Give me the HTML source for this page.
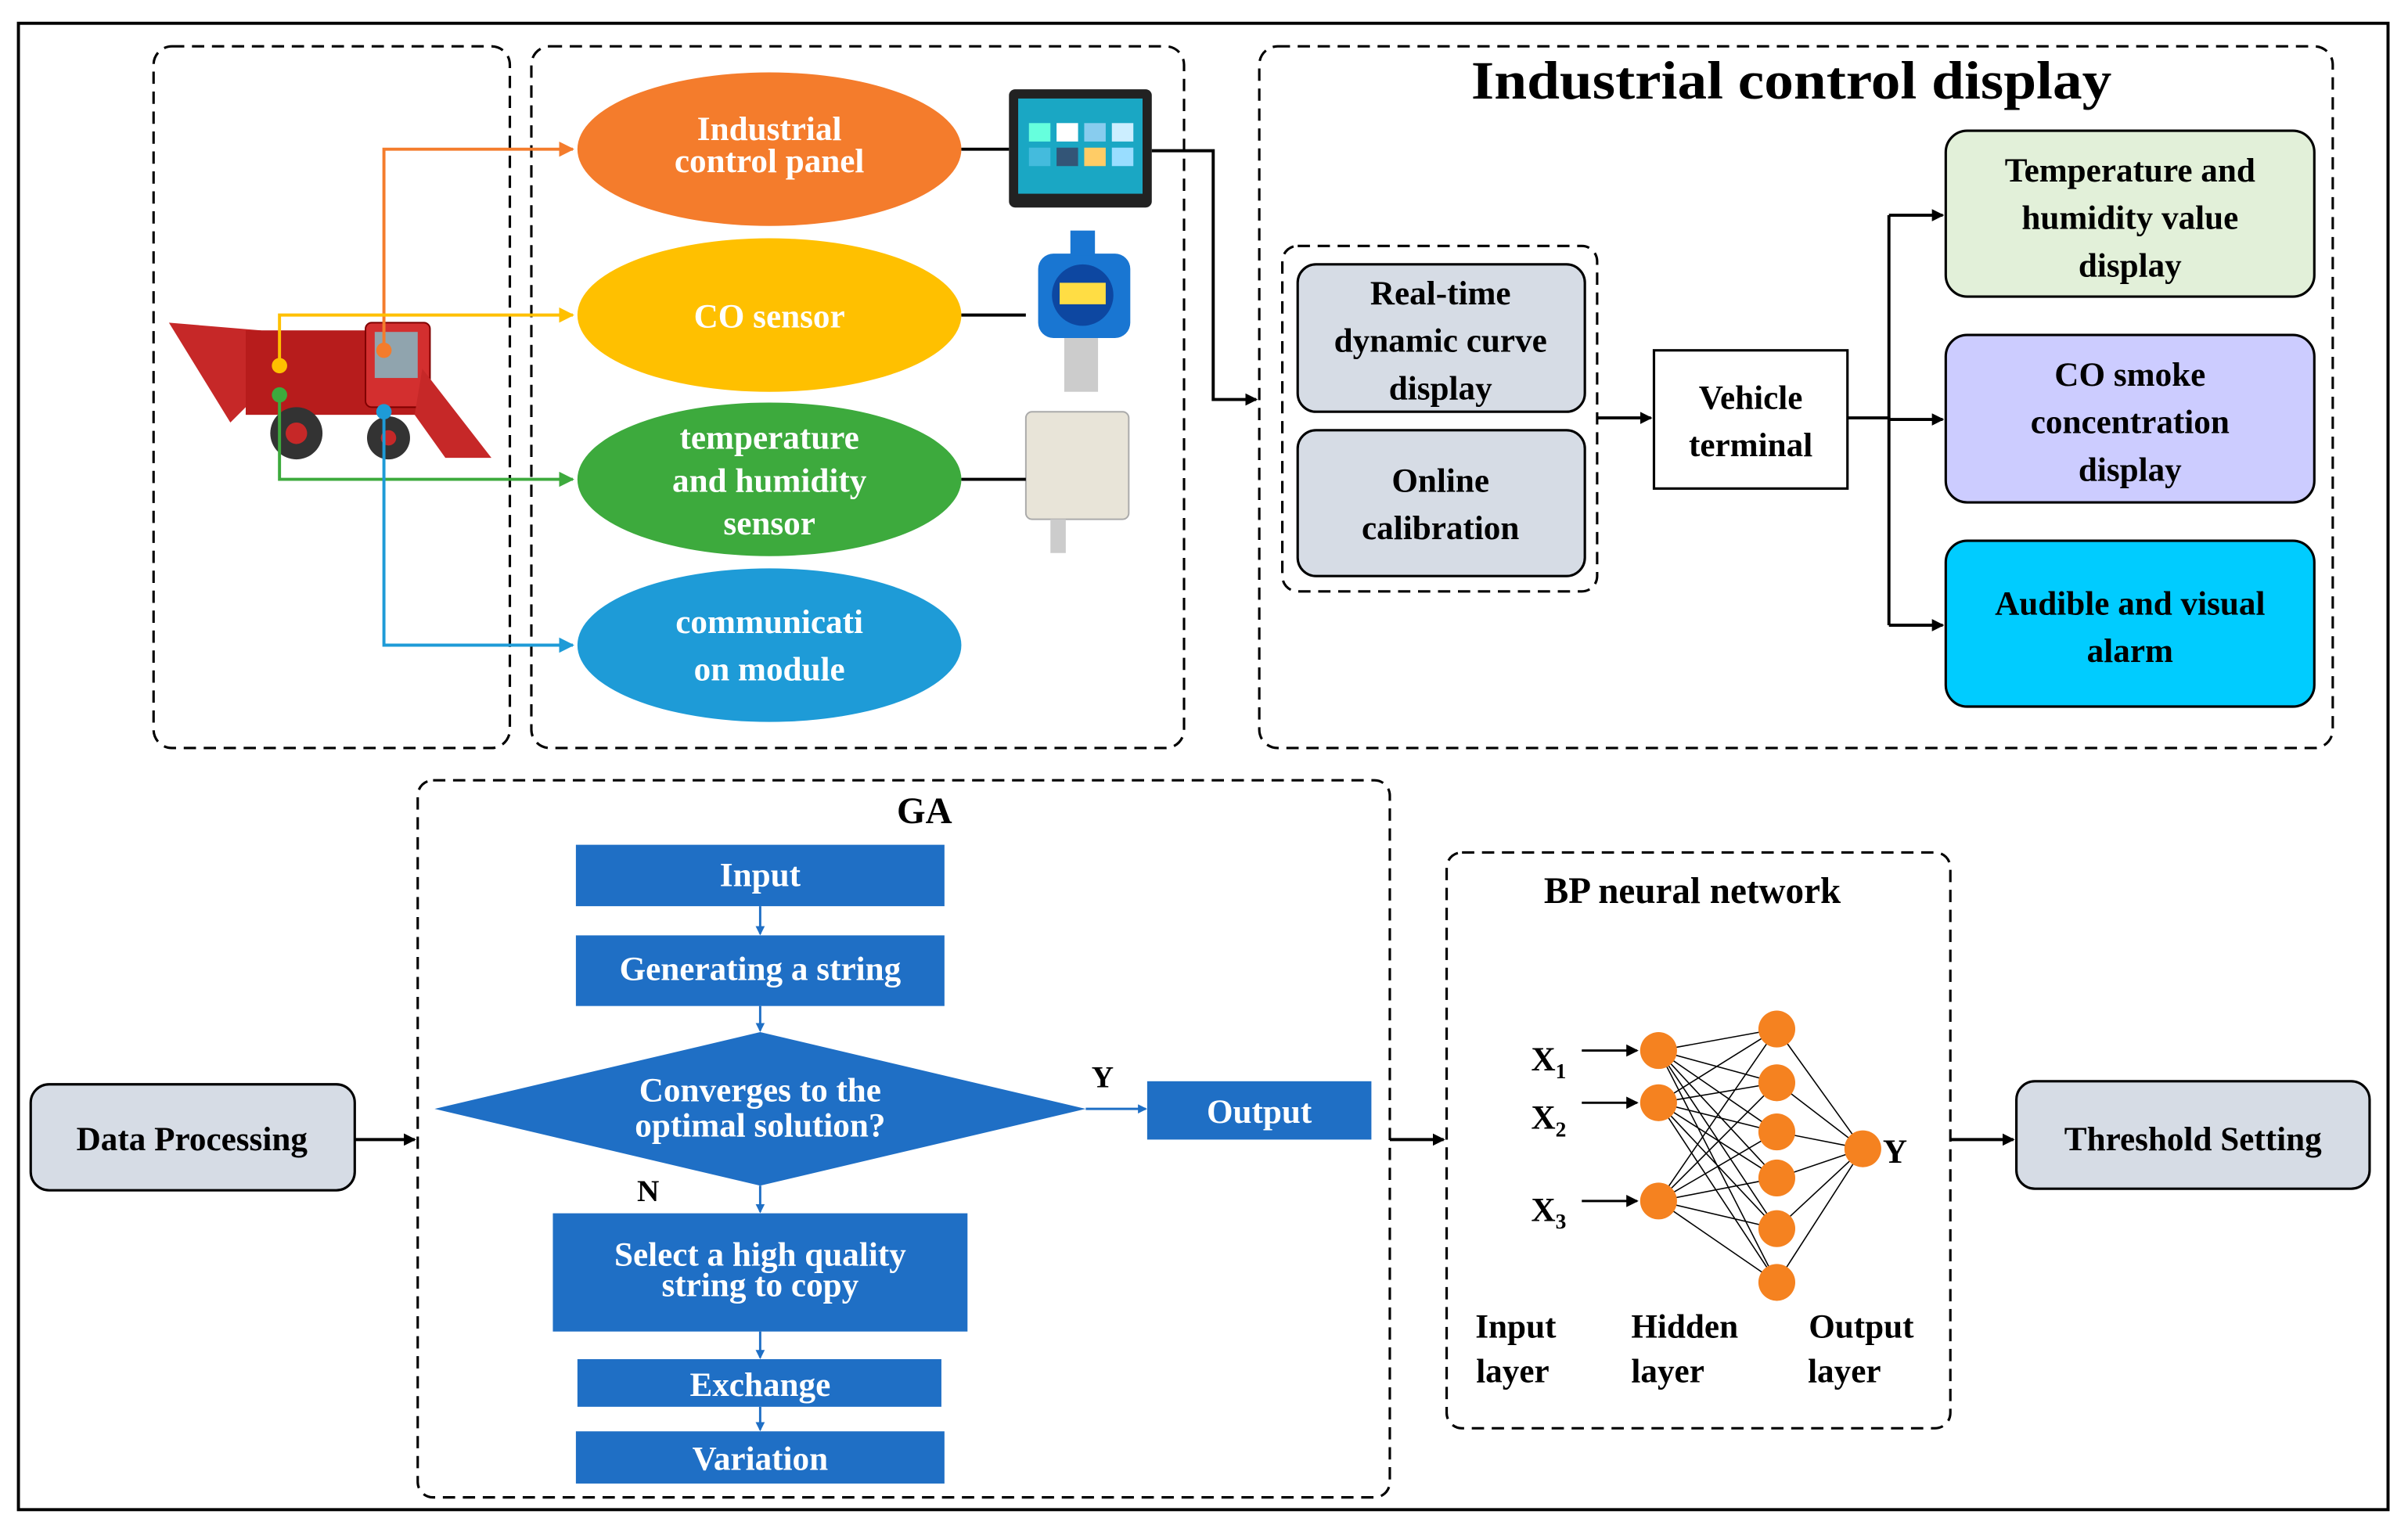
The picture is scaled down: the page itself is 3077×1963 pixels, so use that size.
<!DOCTYPE html>
<html><head><meta charset="utf-8"><style>
html,body{margin:0;padding:0;background:#fff}
svg{display:block}
text{font-family:"Liberation Serif","DejaVu Serif",serif;font-weight:bold}
</style></head><body>
<svg width="3077" height="1963" viewBox="0 0 1568 1000" xmlns="http://www.w3.org/2000/svg" font-family="'Liberation Serif', 'DejaVu Serif', serif" font-weight="bold">
<defs>
<marker id="a" markerWidth="8" markerHeight="8" refX="7" refY="4" orient="auto" markerUnits="userSpaceOnUse"><path d="M0,0 L8,4 L0,8 z" fill="#000"/></marker>
<marker id="ab" markerWidth="6" markerHeight="6" refX="5" refY="3" orient="auto" markerUnits="userSpaceOnUse"><path d="M0,0 L6,3 L0,6 z" fill="#1F6FC5"/></marker>
<marker id="ao" markerWidth="10" markerHeight="10" refX="9" refY="5" orient="auto" markerUnits="userSpaceOnUse"><path d="M0,0 L10,5 L0,10 z" fill="#F47C2C"/></marker>
<marker id="ay" markerWidth="10" markerHeight="10" refX="9" refY="5" orient="auto" markerUnits="userSpaceOnUse"><path d="M0,0 L10,5 L0,10 z" fill="#FFC000"/></marker>
<marker id="ag" markerWidth="10" markerHeight="10" refX="9" refY="5" orient="auto" markerUnits="userSpaceOnUse"><path d="M0,0 L10,5 L0,10 z" fill="#3DAA3D"/></marker>
<marker id="abl" markerWidth="10" markerHeight="10" refX="9" refY="5" orient="auto" markerUnits="userSpaceOnUse"><path d="M0,0 L10,5 L0,10 z" fill="#1E9BD7"/></marker>
</defs>
<rect x="12" y="15" width="1543" height="968" fill="none" stroke="#000" stroke-width="2"/>
<g fill="none" stroke="#000" stroke-width="1.6" stroke-dasharray="8,5">
<rect x="100" y="30" width="232" height="457" rx="12"/>
<rect x="346" y="30" width="425" height="457" rx="12"/>
<rect x="820" y="30" width="699" height="457" rx="12"/>
<rect x="835" y="160" width="205" height="225" rx="10"/>
<rect x="272" y="508" width="633" height="467" rx="10"/>
<rect x="942" y="555" width="328" height="375" rx="10"/>
</g>
<text x="958" y="64" font-size="35" textLength="417" lengthAdjust="spacingAndGlyphs">Industrial control display</text>
<ellipse cx="501" cy="97" rx="125" ry="50" fill="#F47C2C"/>
<ellipse cx="501" cy="205" rx="125" ry="50" fill="#FFC000"/>
<ellipse cx="501" cy="312" rx="125" ry="50" fill="#3DAA3D"/>
<ellipse cx="501" cy="420" rx="125" ry="50" fill="#1E9BD7"/>
<g fill="#fff" font-size="22" text-anchor="middle">
<text x="501" y="91">Industrial</text><text x="501" y="112">control panel</text>
<text x="501" y="213">CO sensor</text>
<text x="501" y="292">temperature</text><text x="501" y="320">and humidity</text><text x="501" y="348">sensor</text>
<text x="501" y="412">communicati</text><text x="501" y="443">on module</text>
</g>
<rect x="657" y="58" width="93" height="77" rx="4" fill="#222"/>
<rect x="663" y="64" width="81" height="62" fill="#1aa7c4"/>
<rect x="670" y="80" width="14" height="12" fill="#6fd"/><rect x="688" y="80" width="14" height="12" fill="#fff"/><rect x="706" y="80" width="14" height="12" fill="#8ce"/><rect x="724" y="80" width="14" height="12" fill="#cef"/>
<rect x="670" y="96" width="14" height="12" fill="#4bd"/><rect x="688" y="96" width="14" height="12" fill="#357"/><rect x="706" y="96" width="14" height="12" fill="#fc6"/><rect x="724" y="96" width="14" height="12" fill="#9df"/>
<rect x="676" y="165" width="60" height="55" rx="10" fill="#1976d2"/>
<circle cx="705" cy="192" r="20" fill="#0d47a1"/><rect x="690" y="184" width="30" height="14" fill="#fd4"/>
<rect x="697" y="150" width="16" height="16" fill="#1976d2"/>
<rect x="693" y="220" width="22" height="35" fill="#ccc"/>
<rect x="668" y="268" width="67" height="70" rx="4" fill="#e8e4d8" stroke="#aaa"/>
<rect x="684" y="338" width="10" height="22" fill="#ccc"/>
<g stroke="#000" stroke-width="2" fill="none">
<line x1="626" y1="97" x2="657" y2="97"/>
<line x1="626" y1="205" x2="668" y2="205"/>
<line x1="626" y1="312" x2="668" y2="312"/>
<polyline points="750,98 790,98 790,260 818,260" marker-end="url(#a)"/>
</g>
<polygon points="110,210 170,215 175,250 150,275" fill="#c62828"/>
<rect x="160" y="215" width="120" height="55" fill="#b71c1c"/>
<rect x="238" y="210" width="42" height="55" rx="4" fill="#d32f2f" stroke="#7f0000"/>
<rect x="244" y="216" width="28" height="30" fill="#90a4ae"/>
<polygon points="275,240 320,298 290,298 270,270" fill="#c62828"/>
<circle cx="193" cy="282" r="17" fill="#333"/><circle cx="193" cy="282" r="7" fill="#c62828"/>
<circle cx="253" cy="285" r="14" fill="#333"/><circle cx="253" cy="285" r="5" fill="#c62828"/>
<g fill="none" stroke-width="2">
<polyline points="250,228 250,97 373,97" stroke="#F47C2C" marker-end="url(#ao)"/>
<polyline points="182,238 182,205 373,205" stroke="#FFC000" marker-end="url(#ay)"/>
<polyline points="182,257 182,312 373,312" stroke="#3DAA3D" marker-end="url(#ag)"/>
<polyline points="250,268 250,420 373,420" stroke="#1E9BD7" marker-end="url(#abl)"/>
</g>
<circle cx="250" cy="228" r="5" fill="#F47C2C"/><circle cx="182" cy="238" r="5" fill="#FFC000"/>
<circle cx="182" cy="257" r="5" fill="#3DAA3D"/><circle cx="250" cy="268" r="5" fill="#1E9BD7"/>
<g stroke="#000" stroke-width="1.6">
<rect x="845" y="172" width="187" height="96" rx="12" fill="#D6DCE5"/>
<rect x="845" y="280" width="187" height="95" rx="12" fill="#D6DCE5"/>
<rect x="1077" y="228" width="126" height="90" fill="#fff"/>
<rect x="1267" y="85" width="240" height="108" rx="14" fill="#E2F0D9"/>
<rect x="1267" y="218" width="240" height="109" rx="14" fill="#CCCCFF"/>
<rect x="1267" y="352" width="240" height="108" rx="14" fill="#00CCFF"/>
</g>
<g font-size="22" text-anchor="middle">
<text x="938" y="198">Real-time</text><text x="938" y="229">dynamic curve</text><text x="938" y="260">display</text>
<text x="938" y="320">Online</text><text x="938" y="351">calibration</text>
<text x="1140" y="266">Vehicle</text><text x="1140" y="297">terminal</text>
<text x="1387" y="118">Temperature and</text><text x="1387" y="149">humidity value</text><text x="1387" y="180">display</text>
<text x="1387" y="251">CO smoke</text><text x="1387" y="282">concentration</text><text x="1387" y="313">display</text>
<text x="1387" y="400">Audible and visual</text><text x="1387" y="431">alarm</text>
</g>
<g stroke="#000" stroke-width="2" fill="none">
<line x1="1040" y1="272" x2="1075" y2="272" marker-end="url(#a)"/>
<line x1="1203" y1="272" x2="1230" y2="272"/>
<line x1="1230" y1="140" x2="1230" y2="407"/>
<line x1="1230" y1="140" x2="1265" y2="140" marker-end="url(#a)"/>
<line x1="1230" y1="273" x2="1265" y2="273" marker-end="url(#a)"/>
<line x1="1230" y1="407" x2="1265" y2="407" marker-end="url(#a)"/>
</g>
<text x="602" y="536" font-size="24" text-anchor="middle">GA</text>
<g fill="#1F6FC5">
<rect x="375" y="550" width="240" height="40"/>
<rect x="375" y="609" width="240" height="46"/>
<polygon points="283,722 495,672 707,722 495,772"/>
<rect x="747" y="704" width="146" height="38"/>
<rect x="360" y="790" width="270" height="77"/>
<rect x="376" y="885" width="237" height="31"/>
<rect x="375" y="932" width="240" height="34"/>
</g>
<g fill="#fff" font-size="22" text-anchor="middle">
<text x="495" y="577">Input</text>
<text x="495" y="638">Generating a string</text>
<text x="495" y="717">Converges to the</text><text x="495" y="740">optimal solution?</text>
<text x="820" y="731">Output</text>
<text x="495" y="824">Select a high quality</text><text x="495" y="844">string to copy</text>
<text x="495" y="909">Exchange</text>
<text x="495" y="957">Variation</text>
</g>
<g stroke="#1F6FC5" stroke-width="1.5">
<line x1="495" y1="590" x2="495" y2="608" marker-end="url(#ab)"/>
<line x1="495" y1="655" x2="495" y2="671" marker-end="url(#ab)"/>
<line x1="495" y1="772" x2="495" y2="789" marker-end="url(#ab)"/>
<line x1="495" y1="867" x2="495" y2="884" marker-end="url(#ab)"/>
<line x1="495" y1="916" x2="495" y2="931" marker-end="url(#ab)"/>
<line x1="707" y1="722" x2="746" y2="722" marker-end="url(#ab)"/>
</g>
<text x="718" y="708" font-size="20" text-anchor="middle">Y</text>
<text x="422" y="782" font-size="20" text-anchor="middle">N</text>
<rect x="20" y="706" width="211" height="69" rx="12" fill="#D6DCE5" stroke="#000" stroke-width="1.6"/>
<text x="125" y="749" font-size="22" text-anchor="middle">Data Processing</text>
<rect x="1313" y="704" width="230" height="70" rx="12" fill="#D6DCE5" stroke="#000" stroke-width="1.6"/>
<text x="1428" y="749" font-size="22" text-anchor="middle">Threshold Setting</text>
<g stroke="#000" stroke-width="2">
<line x1="231" y1="742" x2="270" y2="742" marker-end="url(#a)"/>
<line x1="905" y1="742" x2="940" y2="742" marker-end="url(#a)"/>
<line x1="1270" y1="742" x2="1311" y2="742" marker-end="url(#a)"/>
</g>
<text x="1102" y="588" font-size="24" text-anchor="middle">BP neural network</text>
<g stroke="#000" stroke-width="0.8">
<path d="M1080,684L1157,670M1080,684L1157,705M1080,684L1157,737M1080,684L1157,767M1080,684L1157,800M1080,684L1157,835
M1080,718L1157,670M1080,718L1157,705M1080,718L1157,737M1080,718L1157,767M1080,718L1157,800M1080,718L1157,835
M1080,782L1157,670M1080,782L1157,705M1080,782L1157,737M1080,782L1157,767M1080,782L1157,800M1080,782L1157,835
M1157,670L1213,748M1157,705L1213,748M1157,737L1213,748M1157,767L1213,748M1157,800L1213,748M1157,835L1213,748"/>
</g>
<g stroke="#000" stroke-width="1.5">
<line x1="1030" y1="684" x2="1066" y2="684" marker-end="url(#a)"/>
<line x1="1030" y1="718" x2="1066" y2="718" marker-end="url(#a)"/>
<line x1="1030" y1="782" x2="1066" y2="782" marker-end="url(#a)"/>
</g>
<g fill="#F58220">
<circle cx="1080" cy="684" r="12"/><circle cx="1080" cy="718" r="12"/><circle cx="1080" cy="782" r="12"/>
<circle cx="1157" cy="670" r="12"/><circle cx="1157" cy="705" r="12"/><circle cx="1157" cy="737" r="12"/>
<circle cx="1157" cy="767" r="12"/><circle cx="1157" cy="800" r="12"/><circle cx="1157" cy="835" r="12"/>
<circle cx="1213" cy="748" r="12"/>
</g>
<g font-size="22">
<text x="997" y="697">X<tspan font-size="14" dy="5">1</tspan></text>
<text x="997" y="735">X<tspan font-size="14" dy="5">2</tspan></text>
<text x="997" y="795">X<tspan font-size="14" dy="5">3</tspan></text>
<text x="1226" y="757">Y</text>
</g>
<g font-size="22" text-anchor="middle">
<text x="987" y="871">Input</text><text x="985" y="900">layer</text>
<text x="1097" y="871">Hidden</text><text x="1086" y="900">layer</text>
<text x="1212" y="871">Output</text><text x="1201" y="900">layer</text>
</g>
</svg>
</body></html>
